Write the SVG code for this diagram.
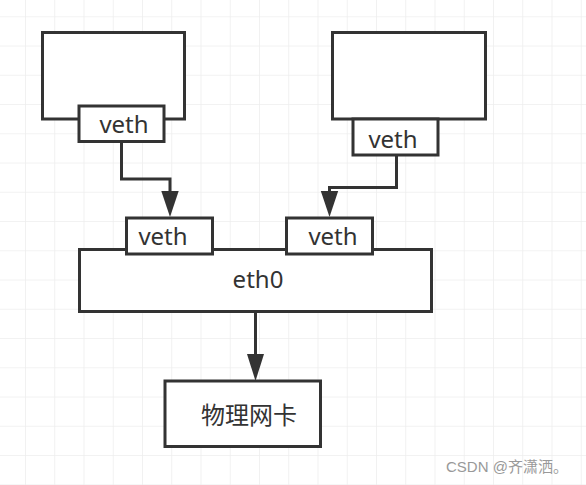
<svg xmlns="http://www.w3.org/2000/svg" width="586" height="485" viewBox="0 0 586 485">
<defs>
<pattern id="grid" x="25" y="16.3" width="29.25" height="29.25" patternUnits="userSpaceOnUse">
<path d="M0 0H29.25M0 0V29.25" fill="none" stroke="#eeeeee" stroke-width="1.6"/>
</pattern>
</defs>
<style>
.box{fill:#ffffff;stroke:#333333;stroke-width:3}
.lbl{font-family:"Noto Sans","Liberation Sans",sans-serif;font-size:24px;fill:#333333;text-anchor:middle}
.cjk{font-family:"Noto Sans CJK SC",sans-serif;font-size:24px;fill:#333333;text-anchor:middle}
.wire{fill:none;stroke:#333333;stroke-width:3}
.head{fill:#333333;stroke:none}
.wm{font-family:"Liberation Sans","Noto Sans CJK SC",sans-serif;font-size:15px;fill:#999999}
</style>
<rect width="586" height="485" fill="#ffffff"/>
<rect width="586" height="485" fill="url(#grid)"/>
<g id="container1">
<rect class="box" x="42.5" y="32.5" width="142" height="86.5"/>
</g>
<g id="container2">
<rect class="box" x="332.5" y="32.5" width="153" height="86.5"/>
</g>
<g id="connectors">
<path class="wire" d="M121.5 141.5V179H170V192"/>
<path class="head" d="M161.3 191L178.7 191L170 217Z"/>
<path class="wire" d="M396.5 155V187.5H329.5V192"/>
<path class="head" d="M320.8 191L338.2 191L329.5 217Z"/>
<path class="wire" d="M255.5 311.5V356"/>
<path class="head" d="M247 354L264 354L255.5 381Z"/>
</g>
<g id="veth1">
<rect class="box" x="79" y="106" width="85" height="35.5"/>
<text class="lbl" x="124" y="133">veth</text>
</g>
<g id="veth2">
<rect class="box" x="353" y="119" width="85" height="36"/>
<text class="lbl" x="393" y="148">veth</text>
</g>
<g id="eth0">
<rect class="box" x="79.5" y="249.5" width="352" height="62"/>
<text class="lbl" x="258" y="288">eth0</text>
</g>
<g id="veth3">
<rect class="box" x="126.5" y="218" width="86" height="36"/>
<text class="lbl" x="163" y="245">veth</text>
</g>
<g id="veth4">
<rect class="box" x="286.5" y="218" width="86" height="36"/>
<text class="lbl" x="333" y="245">veth</text>
</g>
<g id="nic">
<rect class="box" x="165" y="381" width="155.5" height="65.5"/>
<text class="cjk" x="249" y="424">物理网卡</text>
</g>
<text class="wm" x="446" y="472">CSDN @齐潇洒。</text>
</svg>
